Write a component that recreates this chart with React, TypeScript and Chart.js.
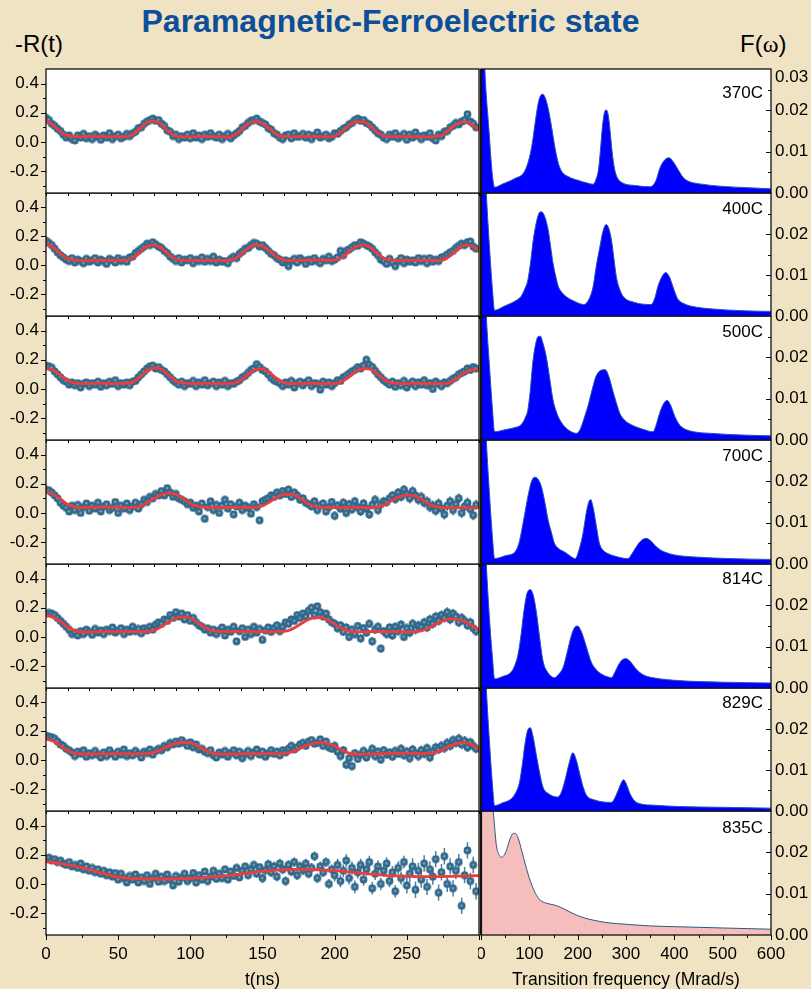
import React, { useEffect, useRef } from "react";
import { Chart, registerables } from "chart.js";
Chart.register(...registerables);

// ---------------- DATA ----------------
const TEMPS = ["370C", "400C", "500C", "700C", "814C", "829C", "835C"];
const FIT_STEP = 5; // ns
const DATA_STEP = 2; // ns

const FIT_370 = [0.145,0.115,0.070,0.042,0.036,0.037,0.038,0.038,0.037,0.036,0.035,0.036,0.050,0.090,0.133,0.143,0.120,0.070,0.040,0.035,0.036,0.037,0.038,0.037,0.035,0.034,0.042,0.080,0.125,0.141,0.128,0.090,0.050,0.037,0.036,0.037,0.038,0.037,0.036,0.035,0.040,0.070,0.115,0.139,0.137,0.105,0.060,0.040,0.036,0.037,0.037,0.036,0.035,0.034,0.036,0.050,0.090,0.125,0.137,0.120,0.080];
const FIT_400 = [0.149,0.125,0.080,0.045,0.034,0.033,0.033,0.034,0.034,0.033,0.032,0.034,0.050,0.090,0.130,0.142,0.120,0.075,0.042,0.034,0.033,0.034,0.035,0.035,0.034,0.032,0.040,0.075,0.118,0.142,0.133,0.098,0.058,0.036,0.032,0.034,0.035,0.036,0.036,0.035,0.036,0.055,0.095,0.130,0.142,0.122,0.080,0.045,0.033,0.033,0.034,0.035,0.035,0.034,0.033,0.038,0.065,0.110,0.140,0.135,0.097];
const FIT_500 = [0.145,0.128,0.095,0.058,0.040,0.037,0.037,0.038,0.038,0.037,0.037,0.038,0.045,0.080,0.125,0.145,0.135,0.095,0.055,0.040,0.037,0.037,0.038,0.038,0.037,0.037,0.040,0.060,0.100,0.133,0.138,0.110,0.068,0.042,0.036,0.037,0.038,0.038,0.037,0.036,0.037,0.050,0.085,0.122,0.140,0.135,0.100,0.060,0.040,0.037,0.037,0.038,0.038,0.037,0.036,0.036,0.045,0.075,0.110,0.130,0.133];
const FIT_700 = [0.147,0.130,0.095,0.058,0.040,0.037,0.038,0.039,0.040,0.040,0.039,0.038,0.038,0.045,0.070,0.100,0.126,0.136,0.128,0.100,0.065,0.045,0.038,0.037,0.037,0.038,0.038,0.038,0.037,0.038,0.048,0.075,0.108,0.127,0.127,0.108,0.075,0.048,0.038,0.036,0.036,0.037,0.038,0.038,0.038,0.037,0.040,0.058,0.088,0.112,0.122,0.118,0.095,0.062,0.043,0.037,0.037,0.037,0.037,0.037,0.037];
const FIT_814 = [0.149,0.135,0.105,0.068,0.042,0.034,0.034,0.036,0.037,0.037,0.037,0.036,0.036,0.036,0.037,0.045,0.070,0.103,0.130,0.138,0.128,0.100,0.065,0.043,0.036,0.036,0.037,0.037,0.037,0.036,0.036,0.035,0.035,0.038,0.052,0.080,0.110,0.130,0.132,0.118,0.088,0.058,0.040,0.035,0.035,0.036,0.036,0.037,0.037,0.036,0.035,0.036,0.042,0.060,0.088,0.112,0.124,0.122,0.105,0.078,0.050];
const FIT_829 = [0.148,0.133,0.100,0.068,0.048,0.044,0.044,0.045,0.045,0.045,0.046,0.046,0.045,0.045,0.047,0.055,0.075,0.100,0.118,0.125,0.120,0.100,0.072,0.050,0.043,0.043,0.044,0.045,0.046,0.047,0.047,0.046,0.046,0.048,0.056,0.078,0.102,0.118,0.123,0.118,0.098,0.070,0.050,0.043,0.042,0.043,0.045,0.047,0.048,0.049,0.049,0.048,0.047,0.048,0.055,0.075,0.100,0.118,0.123,0.110,0.077];
const FIT_835 = [0.153,0.147,0.140,0.132,0.122,0.112,0.098,0.085,0.072,0.059,0.048,0.042,0.038,0.035,0.034,0.034,0.034,0.034,0.035,0.036,0.038,0.041,0.044,0.048,0.052,0.057,0.063,0.069,0.075,0.081,0.086,0.090,0.094,0.097,0.099,0.100,0.100,0.099,0.097,0.094,0.091,0.087,0.082,0.077,0.072,0.067,0.063,0.059,0.056,0.054,0.052,0.051,0.050,0.050,0.050,0.051,0.052,0.053,0.055,0.056,0.057];

const DATA_370 = [
  0.165,0.15,0.125,0.11,0.09,0.075,0.05,0.03,0.045,0.02,
  0.01,0.045,0.03,0.055,0.025,0.04,0.02,0.05,0.035,0.015,
  0.045,0.03,0.06,0.02,0.04,0.05,0.025,0.035,0.055,0.04,
  0.06,0.07,0.095,0.1,0.125,0.14,0.15,0.16,0.145,0.15,
  0.125,0.11,0.08,0.07,0.04,0.05,0.02,0.04,0.03,0.05,
  0.025,0.06,0.03,0.045,0.02,0.05,0.035,0.06,0.04,0.03,
  0.05,0.02,0.04,0.055,0.025,0.045,0.06,0.075,0.1,0.11,
  0.13,0.145,0.15,0.16,0.14,0.13,0.12,0.095,0.085,0.06,
  0.05,0.03,0.02,0.045,0.05,0.025,0.06,0.035,0.04,0.055,
  0.03,0.05,0.02,0.045,0.065,0.03,0.04,0.05,0.025,0.035,
  0.06,0.055,0.075,0.09,0.1,0.12,0.13,0.15,0.16,0.145,
  0.15,0.13,0.12,0.1,0.08,0.06,0.05,0.03,0.02,0.05,
  0.035,0.06,0.025,0.04,0.055,0.015,0.05,0.03,0.065,0.04,
  0.02,0.045,0.035,0.06,0.025,0.01,0.05,0.04,0.07,0.075,
  0.1,0.11,0.13,0.12,0.14,0.15,0.19,0.14,0.125,0.1];
const DATA_400 = [
  0.17,0.155,0.14,0.115,0.09,0.07,0.055,0.04,0.03,0.05,
  0.02,0.04,0.03,0.015,0.045,0.025,0.035,0.05,0.02,0.04,
  0.03,0.01,0.045,0.035,0.02,0.05,0.03,0.04,0.025,0.055,
  0.06,0.085,0.1,0.115,0.13,0.15,0.14,0.16,0.145,0.13,
  0.12,0.1,0.085,0.06,0.045,0.03,0.05,0.02,0.04,0.035,
  0.05,0.015,0.04,0.03,0.055,0.025,0.045,0.03,0.06,0.02,
  0.04,0.025,0.03,0.015,0.045,0.06,0.05,0.08,0.095,0.115,
  0.12,0.14,0.155,0.15,0.13,0.14,0.12,0.1,0.08,0.07,
  0.05,0.04,0.02,0.035,-0.005,0.03,0.045,0.02,0.05,0.035,
  0.01,0.04,0.025,0.05,0.03,0.015,0.045,0.035,0.06,0.03,
  0.04,0.055,0.1,0.07,0.1,0.11,0.125,0.14,0.135,0.16,
  0.15,0.14,0.13,0.115,0.09,0.07,0.04,0.03,0.01,0.045,
  0.02,-0.005,0.03,0.05,0.015,0.04,0.025,0.035,0.02,0.05,
  0.03,0.045,0.015,0.05,0.025,0.04,0.03,0.055,0.06,0.075,
  0.09,0.1,0.12,0.135,0.15,0.14,0.16,0.165,0.13,0.115];
const DATA_500 = [
  0.16,0.155,0.145,0.12,0.1,0.08,0.06,0.05,0.03,0.045,
  0.025,0.04,0.01,0.035,0.045,0.02,0.04,0.03,0.05,0.015,
  0.04,0.025,0.05,0.035,0.06,0.02,0.04,0.03,0.045,0.025,
  0.05,0.055,0.08,0.1,0.12,0.14,0.155,0.16,0.14,0.15,
  0.13,0.12,0.1,0.08,0.06,0.045,0.03,0.05,0.02,0.04,
  0.035,0.055,0.02,0.045,0.03,0.06,0.025,0.04,0.05,0.02,
  0.045,0.03,0.055,0.02,0.04,0.035,0.05,0.06,0.08,0.09,
  0.11,0.13,0.14,0.17,0.15,0.13,0.12,0.1,0.075,0.06,
  0.05,0.04,0.02,0.045,0.03,0.055,0.01,0.04,0.05,0.025,
  0.045,0.06,0.02,0.04,0.035,-0.005,0.05,0.03,0.045,0.02,
  0.04,0.06,0.055,0.08,0.09,0.105,0.12,0.13,0.15,0.14,
  0.16,0.2,0.165,0.15,0.125,0.1,0.08,0.06,0.045,0.03,
  0.05,0.015,0.04,0.025,0.055,0.01,0.035,0.05,0.02,0.045,
  0.03,0.06,0.025,0.04,0.0,0.05,0.035,0.02,0.045,0.04,
  0.055,0.07,0.08,0.1,0.11,0.12,0.14,0.13,0.15,0.14];
const DATA_700 = [
  0.16,0.155,0.14,0.12,0.1,0.07,0.05,0.035,0.01,0.05,
  0.02,0.055,0.0,0.04,0.065,0.015,0.05,0.03,0.07,0.01,
  0.045,0.06,0.02,0.035,0.075,0.0,0.05,0.03,0.065,0.02,
  0.045,0.07,0.03,0.06,0.09,0.075,0.11,0.1,0.13,0.12,
  0.15,0.12,0.17,0.14,0.11,0.13,0.1,0.09,0.08,0.06,
  0.07,0.035,0.05,0.01,0.065,-0.04,0.04,0.08,0.02,0.055,
  0.0,0.05,0.09,0.03,0.06,-0.01,0.045,0.07,0.02,0.05,
  0.035,-0.005,0.06,0.04,-0.05,0.08,0.09,0.1,0.12,0.11,
  0.14,0.12,0.15,0.13,0.16,0.11,0.14,0.12,0.09,0.1,
  0.07,0.06,0.045,0.08,0.02,0.05,0.065,0.01,0.04,0.075,
  -0.02,0.05,0.03,0.07,0.0,0.06,0.025,0.08,0.04,0.01,
  0.065,0.03,-0.01,0.055,0.09,0.02,0.06,0.08,0.075,0.1,
  0.12,0.095,0.14,0.11,0.16,0.13,0.1,0.15,0.12,0.09,
  0.11,0.07,0.08,0.04,0.05,0.015,0.065,0.03,-0.01,0.05,
  0.08,0.02,0.06,0.1,0.0,0.045,0.07,0.025,-0.015,0.055];
const DATA_814 = [
  0.16,0.165,0.16,0.15,0.13,0.11,0.09,0.07,0.05,0.02,
  0.03,0.01,0.04,0.02,0.05,0.035,0.015,0.055,0.03,0.045,
  0.02,0.05,0.04,0.065,0.03,0.045,0.06,0.02,0.05,0.035,
  0.07,0.04,0.055,0.025,0.06,0.045,0.07,0.05,0.085,0.1,
  0.09,0.12,0.11,0.15,0.13,0.17,0.14,0.16,0.12,0.15,
  0.11,0.13,0.1,0.08,0.07,0.05,0.06,0.03,0.05,0.02,
  0.045,0.065,0.01,0.05,0.035,0.07,-0.03,0.04,0.06,0.0,
  0.05,0.02,0.07,0.03,0.055,-0.02,0.045,0.065,0.035,0.06,
  0.08,0.04,0.07,0.1,0.09,0.12,0.11,0.15,0.13,0.16,
  0.14,0.18,0.2,0.15,0.21,0.17,0.14,0.16,0.12,0.1,
  0.09,0.06,0.08,0.035,0.065,0.0,0.05,0.02,0.075,-0.01,
  0.06,0.03,0.09,-0.03,0.05,0.07,-0.08,0.04,0.02,0.065,
  0.01,0.07,0.04,0.085,0.0,0.06,0.03,0.09,0.05,0.08,
  0.07,0.1,0.065,0.12,0.09,0.14,0.11,0.15,0.13,0.17,
  0.12,0.16,0.14,0.1,0.13,0.11,0.08,0.1,0.06,0.04];
const DATA_829 = [
  0.17,0.165,0.16,0.15,0.13,0.11,0.1,0.08,0.07,0.055,
  0.03,0.06,0.045,0.07,0.025,0.05,0.035,0.065,0.04,0.02,
  0.055,0.03,0.07,0.045,0.025,0.06,0.04,0.075,0.03,0.05,
  0.035,0.065,0.045,0.02,0.06,0.05,0.075,0.04,0.065,0.08,
  0.07,0.1,0.09,0.12,0.11,0.13,0.115,0.14,0.12,0.1,
  0.125,0.09,0.11,0.075,0.08,0.06,0.05,0.07,0.035,0.02,
  0.055,0.04,0.065,0.025,0.05,0.07,0.035,0.06,0.015,0.045,
  0.065,0.03,0.055,0.075,0.04,0.06,0.025,0.05,0.07,0.045,
  0.06,0.035,0.07,0.055,0.08,0.1,0.075,0.09,0.11,0.12,
  0.1,0.13,0.14,0.115,0.12,0.145,0.1,0.13,0.09,0.08,
  0.1,0.06,0.03,0.07,-0.03,0.015,-0.04,0.05,0.01,0.04,
  0.065,0.02,0.05,0.08,0.03,0.06,0.005,0.07,0.04,0.055,
  0.025,0.065,0.045,0.08,0.035,0.06,0.015,0.075,0.05,0.03,
  0.07,0.045,0.085,0.02,0.06,0.09,0.075,0.1,0.085,0.12,
  0.1,0.14,0.12,0.15,0.11,0.135,0.09,0.125,0.1,0.08];
const DATA_835 = [
  0.17,0.18,0.16,0.17,0.15,0.16,0.14,0.13,0.15,0.12,
  0.13,0.11,0.14,0.1,0.12,0.09,0.11,0.08,0.1,0.07,
  0.09,0.06,0.08,0.05,0.075,0.03,0.07,0.04,0.01,0.055,
  0.03,0.065,0.01,0.045,0.02,0.06,0.0,0.04,0.07,0.015,
  0.05,0.02,0.065,0.03,-0.01,0.055,0.015,0.045,0.07,0.02,
  0.04,0.075,0.01,0.06,0.03,0.085,0.02,0.05,0.09,0.035,
  0.07,0.04,0.1,0.03,0.085,0.055,0.11,0.045,0.09,0.12,
  0.06,0.1,0.13,0.07,0.115,0.04,0.095,0.135,0.08,0.12,
  0.05,0.14,0.1,0.02,0.13,0.085,0.15,0.06,0.12,0.095,
  0.14,0.07,0.11,0.19,0.04,0.12,0.08,0.15,0.0,0.1,
  0.06,0.13,0.02,0.09,0.16,0.04,0.11,-0.02,0.08,0.13,
  0.03,0.1,0.15,-0.03,0.07,0.12,0.0,0.09,0.14,0.02,
  0.08,-0.05,0.11,0.04,0.15,-0.01,0.07,0.12,-0.04,0.09,
  0.03,0.14,-0.02,0.1,0.05,0.17,-0.06,0.08,0.19,0.0,
  0.12,-0.03,0.09,0.15,-0.15,0.06,0.23,0.02,0.13,-0.05];

// error-bar half-widths per 50 ns segment
const ERR_370 = [0.014, 0.015, 0.016, 0.018, 0.020, 0.022];
const ERR_400 = [0.014, 0.015, 0.017, 0.018, 0.020, 0.022];
const ERR_500 = [0.015, 0.017, 0.019, 0.021, 0.023, 0.026];
const ERR_700 = [0.016, 0.019, 0.023, 0.027, 0.031, 0.035];
const ERR_814 = [0.015, 0.018, 0.021, 0.025, 0.029, 0.033];
const ERR_829 = [0.015, 0.018, 0.021, 0.025, 0.029, 0.033];
const ERR_835 = [0.015, 0.019, 0.025, 0.033, 0.043, 0.056];

// F(omega): [frequency (Mrad/s), value]
const SPEC_370 = [[0,0.06],[8,0.03],[16,0.016],[23,0.005],[28,0.0014],[45,0.0022],[70,0.0035],[90,0.0052],[100,0.0085],[106,0.012],[112,0.017],[118,0.0215],[123,0.0235],[128,0.0239],[133,0.023],[139,0.0205],[146,0.016],[153,0.011],[160,0.0072],[167,0.0052],[180,0.004],[200,0.0031],[220,0.0024],[232,0.0021],[238,0.0033],[243,0.0056],[247,0.0102],[251,0.0158],[255,0.0193],[259,0.0201],[263,0.019],[267,0.0152],[271,0.0103],[276,0.006],[282,0.0037],[292,0.0025],[320,0.0018],[350,0.0015],[362,0.003],[370,0.006],[380,0.008],[389,0.0085],[398,0.0075],[408,0.0056],[418,0.0038],[428,0.0029],[453,0.0022],[500,0.0016],[550,0.0013],[600,0.001]];
const SPEC_400 = [[0,0.06],[11,0.03],[18,0.016],[24,0.006],[28,0.0014],[50,0.0025],[70,0.0036],[83,0.0048],[92,0.007],[97,0.0088],[103,0.0135],[108,0.0185],[114,0.0225],[119,0.0248],[125,0.0254],[131,0.0245],[139,0.021],[144,0.017],[149,0.0129],[155,0.0095],[160,0.0072],[170,0.0054],[180,0.0044],[195,0.0035],[213,0.0028],[225,0.0045],[232,0.0072],[239,0.0125],[246,0.0169],[252,0.0205],[259,0.0223],[264,0.0215],[270,0.0185],[275,0.014],[280,0.0096],[287,0.0065],[294,0.0048],[318,0.0033],[352,0.0028],[360,0.0045],[366,0.0072],[374,0.0095],[382,0.0106],[390,0.0095],[397,0.0072],[403,0.0052],[408,0.004],[420,0.003],[435,0.0024],[480,0.0017],[540,0.0013],[600,0.0011]];
const SPEC_500 = [[0,0.06],[11,0.03],[18,0.017],[24,0.007],[28,0.002],[50,0.0025],[70,0.003],[83,0.0037],[92,0.0055],[97,0.0073],[102,0.012],[107,0.0186],[113,0.0232],[118,0.025],[123,0.0251],[128,0.0235],[135,0.0202],[142,0.015],[149,0.0097],[156,0.0068],[163,0.0049],[175,0.003],[190,0.0018],[197,0.0016],[205,0.0025],[214,0.0055],[221,0.0081],[230,0.0122],[238,0.0154],[247,0.0168],[257,0.017],[265,0.0152],[272,0.0122],[280,0.009],[287,0.0065],[298,0.0047],[311,0.0037],[335,0.0026],[356,0.002],[362,0.0035],[367,0.0055],[372,0.0073],[379,0.009],[385,0.0096],[392,0.0085],[401,0.0057],[410,0.0038],[418,0.0029],[440,0.002],[477,0.0016],[540,0.0012],[600,0.001]];
const SPEC_700 = [[0,0.06],[11,0.03],[18,0.016],[24,0.006],[28,0.0013],[50,0.002],[70,0.0029],[78,0.0048],[83,0.0074],[90,0.0118],[97,0.0163],[104,0.0198],[111,0.021],[118,0.0205],[125,0.0187],[132,0.015],[139,0.0106],[146,0.0075],[152,0.005],[162,0.0036],[173,0.0029],[185,0.0019],[195,0.0013],[203,0.0035],[211,0.0074],[218,0.0125],[223,0.015],[227,0.0156],[231,0.0142],[235,0.0118],[240,0.0082],[245,0.005],[253,0.0033],[263,0.0025],[280,0.0018],[304,0.0013],[312,0.0024],[321,0.0041],[330,0.0055],[342,0.0062],[352,0.0055],[359,0.0046],[370,0.0035],[380,0.0029],[400,0.0022],[442,0.0017],[520,0.0013],[600,0.0011]];
const SPEC_814 = [[0,0.06],[11,0.03],[18,0.016],[24,0.007],[28,0.0022],[45,0.0028],[62,0.0038],[70,0.0055],[77,0.0083],[83,0.013],[89,0.0188],[95,0.0228],[102,0.0238],[108,0.0225],[114,0.0188],[121,0.0125],[128,0.0067],[138,0.0038],[152,0.0025],[162,0.0035],[170,0.005],[178,0.0085],[186,0.0123],[193,0.0145],[200,0.015],[207,0.0138],[214,0.0115],[221,0.0088],[228,0.0063],[238,0.0045],[249,0.0034],[262,0.0027],[270,0.0025],[277,0.0038],[284,0.0055],[292,0.0068],[300,0.0071],[309,0.0064],[318,0.005],[328,0.0038],[339,0.003],[360,0.0024],[408,0.0018],[500,0.0014],[600,0.0012]];
const SPEC_829 = [[0,0.06],[11,0.03],[18,0.016],[24,0.006],[28,0.0013],[45,0.002],[62,0.0029],[72,0.0045],[80,0.0072],[86,0.0118],[90,0.0156],[96,0.0195],[102,0.0203],[108,0.018],[114,0.014],[121,0.0095],[128,0.0059],[140,0.0042],[159,0.0034],[167,0.0048],[174,0.0076],[182,0.0115],[190,0.0142],[197,0.0125],[204,0.0092],[211,0.006],[218,0.0039],[235,0.0027],[270,0.0021],[277,0.0032],[284,0.0051],[290,0.0068],[295,0.0076],[301,0.0065],[308,0.0043],[316,0.0027],[325,0.0019],[360,0.0014],[408,0.0011],[500,0.0009],[600,0.0007]];
const SPEC_835 = [[0,0.09],[12,0.05],[20,0.036],[26,0.029],[32,0.0215],[37,0.0195],[42,0.0188],[48,0.0193],[53,0.0206],[60,0.0232],[67,0.0246],[72,0.0245],[77,0.0234],[84,0.0205],[91,0.0174],[98,0.0145],[105,0.0121],[113,0.01],[122,0.0085],[135,0.0077],[150,0.0073],[163,0.0068],[180,0.0058],[198,0.0048],[215,0.0041],[232,0.0036],[260,0.003],[300,0.0026],[350,0.0022],[405,0.002],[500,0.0017],[600,0.0014]];

const FITS = [FIT_370, FIT_400, FIT_500, FIT_700, FIT_814, FIT_829, FIT_835];
const DATAS = [DATA_370, DATA_400, DATA_500, DATA_700, DATA_814, DATA_829, DATA_835];
const ERRS = [ERR_370, ERR_400, ERR_500, ERR_700, ERR_814, ERR_829, ERR_835];
const SPECS = [SPEC_370, SPEC_400, SPEC_500, SPEC_700, SPEC_814, SPEC_829, SPEC_835];

// tick values
const LEFT_Y_TICKS = [-0.2, 0, 0.2, 0.4];
const LEFT_Y_MINOR = [-0.3, -0.1, 0.1, 0.3];
const LEFT_X_LABELS = [0, 50, 100, 150, 200, 250];
const LEFT_X_MAJOR = [0, 50, 100, 150, 200, 250, 300];
const LEFT_X_MINOR = [25, 75, 125, 175, 225, 275];
const LEFT_X_INNER = [0, 15, 30, 45, 60, 75, 90, 105, 120, 135, 150, 165, 180, 195, 210, 225, 240, 255, 270, 285, 300];
const RIGHT_Y_TICKS = [0, 0.01, 0.02];
const RIGHT_Y_TOP_LABEL = 0.03;
const RIGHT_Y_MAJOR = [0.01, 0.02];
const RIGHT_Y_MINOR = [0.005, 0.015, 0.025];
const RIGHT_X_LABELS = [0, 100, 200, 300, 400, 500, 600];
const RIGHT_X_MINOR = [50, 150, 250, 350, 450, 550];

// ---------------- LAYOUT / STYLE ----------------
const W = 811, H = 989;
const ROWS = 7;
const TOP = 69;
const ROW_H = 123.7;
const PAD = 12;
const LEFT_AREA_L = 46;
const SPLIT = 481;
const RIGHT_AREA_R = 771;
const BG = "#EFE3C3";
const FONT_FAMILY = "'Liberation Sans', Arial, Helvetica, sans-serif";
const TICK_FONT = { family: FONT_FAMILY, size: 17 };
const LABEL_DY = [29, 21, 21, 21, 20, 20, 22];
const AXIS_TITLE_PAD = -2;

function rowEdge(i: number) {
  return Math.round(TOP + i * ROW_H);
}

function makeDot() {
  const c = document.createElement("canvas");
  c.width = 9;
  c.height = 9;
  const g = c.getContext("2d")!;
  g.fillStyle = "#31698b";
  g.beginPath();
  g.arc(4.5, 4.5, 3.9, 0, Math.PI * 2);
  g.fill();
  const grd = g.createRadialGradient(4.3, 4.3, 0, 4.3, 4.3, 1.9);
  grd.addColorStop(0, "rgba(215,232,244,0.85)");
  grd.addColorStop(1, "rgba(110,150,180,0)");
  g.fillStyle = grd;
  g.beginPath();
  g.arc(4.5, 4.5, 1.9, 0, Math.PI * 2);
  g.fill();
  return c;
}

function zeroPad(s: any) {
  s.paddingTop = 0;
  s.paddingBottom = 0;
  s.paddingLeft = 0;
  s.paddingRight = 0;
}

const errorBars = {
  id: "errorBars",
  beforeDatasetsDraw(chart: any, _a: any, opts: any) {
    if (!opts || !opts.errs) return;
    const meta = chart.getDatasetMeta(opts.dataset);
    const pts = chart.data.datasets[opts.dataset].data;
    const ys = chart.scales.y;
    const ctx = chart.ctx;
    const a = chart.chartArea;
    ctx.save();
    ctx.beginPath();
    ctx.rect(a.left, a.top, a.right - a.left, a.bottom - a.top);
    ctx.clip();
    ctx.strokeStyle = "#4a80a2";
    ctx.lineWidth = 1.5;
    ctx.beginPath();
    meta.data.forEach((el: any, k: number) => {
      const d = pts[k];
      const e = opts.errs[Math.min(opts.errs.length - 1, Math.floor(d.x / 50))];
      ctx.moveTo(el.x, ys.getPixelForValue(d.y + e));
      ctx.lineTo(el.x, ys.getPixelForValue(d.y - e));
    });
    ctx.stroke();
    ctx.restore();
  },
};

const deco = {
  id: "deco",
  beforeDraw(chart: any) {
    const { ctx, chartArea: a } = chart;
    ctx.save();
    ctx.fillStyle = "#ffffff";
    ctx.fillRect(a.left, a.top, a.right - a.left, a.bottom - a.top);
    ctx.restore();
  },
  afterDraw(chart: any, _a: any, opts: any) {
    const { ctx, chartArea: a } = chart;
    ctx.save();
    ctx.strokeStyle = "#000";
    ctx.lineWidth = 1;
    for (const m of opts.marks || []) {
      const sc = chart.scales[m.scale];
      for (const v of m.values) {
        const p = Math.round(sc.getPixelForValue(v)) + 0.5;
        ctx.beginPath();
        if (m.edge === "bottom") {
          ctx.moveTo(p, a.bottom);
          ctx.lineTo(p, a.bottom + m.len);
        } else if (m.edge === "left") {
          ctx.moveTo(a.left, p);
          ctx.lineTo(a.left - m.len, p);
        } else if (m.edge === "right") {
          ctx.moveTo(a.right, p);
          ctx.lineTo(a.right - m.len, p);
        }
        ctx.stroke();
      }
    }
    ctx.strokeStyle = "#111";
    ctx.lineWidth = opts.borderWidth || 1.3;
    ctx.strokeRect(a.left, a.top, a.right - a.left, a.bottom - a.top);
    if (opts.thickLeft) {
      ctx.lineWidth = 2.2;
      ctx.beginPath();
      ctx.moveTo(a.left, a.top);
      ctx.lineTo(a.left, a.bottom);
      ctx.stroke();
    }
    ctx.fillStyle = "#000";
    ctx.font = `17px ${FONT_FAMILY}`;
    ctx.textBaseline = "alphabetic";
    if (opts.label) {
      ctx.textAlign = "right";
      ctx.fillText(opts.label, a.right - 8, a.top + opts.labelDy);
    }
    if (opts.topLabel != null) {
      // top tick label of the right axis, sitting just below its tick as in the original
      const y = chart.scales.y.getPixelForValue(opts.topLabel);
      ctx.textAlign = "left";
      ctx.fillText(Number(opts.topLabel).toFixed(2), a.right + 4, y + 13);
    }
    ctx.restore();
  },
};

function leftConfig(i: number, dot: HTMLCanvasElement, axisH: number): any {
  const isBottom = i === ROWS - 1;
  const marks: any[] = [
    { scale: "y", edge: "left", values: LEFT_Y_TICKS, len: 5 },
    { scale: "y", edge: "left", values: LEFT_Y_MINOR, len: 3 },
  ];
  if (isBottom) {
    marks.push({ scale: "x", edge: "bottom", values: LEFT_X_MAJOR, len: 5 });
    marks.push({ scale: "x", edge: "bottom", values: LEFT_X_MINOR, len: 3 });
  } else {
    marks.push({ scale: "x", edge: "bottom", values: LEFT_X_INNER, len: 3 });
  }
  return {
    type: "line",
    data: {
      datasets: [
        {
          data: FITS[i].map((v, k) => ({ x: k * FIT_STEP, y: v })),
          borderColor: "#ee3b3b",
          borderWidth: 2.8,
          pointRadius: 0,
          cubicInterpolationMode: "monotone",
          order: 0,
        },
        {
          data: DATAS[i].map((v, k) => ({ x: k * DATA_STEP, y: v })),
          showLine: false,
          pointStyle: dot,
          pointRadius: 4,
          order: 1,
        },
      ],
    },
    options: {
      animation: false,
      responsive: false,
      events: [],
      layout: { padding: { top: PAD, right: 3, bottom: isBottom ? 0 : PAD, left: 0 } },
      plugins: {
        legend: { display: false },
        tooltip: { enabled: false },
        errorBars: { dataset: 1, errs: ERRS[i] },
        deco: { marks, borderWidth: 1.3 },
      },
      scales: {
        x: {
          type: "linear",
          min: 0,
          max: 300,
          display: isBottom,
          grid: { display: false, drawTicks: false },
          border: { display: false },
          afterBuildTicks: (s: any) => {
            s.ticks = LEFT_X_LABELS.map((v) => ({ value: v }));
          },
          afterFit: (s: any) => {
            if (isBottom) s.height = axisH;
            zeroPad(s);
          },
          ticks: { font: TICK_FONT, color: "#000", padding: 9, maxRotation: 0, autoSkip: false },
          title: {
            display: true,
            text: "t(ns)",
            color: "#000",
            font: { family: FONT_FAMILY, size: 17.5 },
            padding: { top: 0, bottom: AXIS_TITLE_PAD },
          },
        },
        y: {
          type: "linear",
          min: -0.35,
          max: 0.5,
          grid: { display: false, drawTicks: false },
          border: { display: false },
          afterBuildTicks: (s: any) => {
            s.ticks = LEFT_Y_TICKS.map((v) => ({ value: v }));
          },
          afterFit: (s: any) => {
            s.width = LEFT_AREA_L;
            zeroPad(s);
          },
          ticks: {
            font: TICK_FONT,
            color: "#000",
            padding: 7,
            callback: (v: any) => Number(v).toFixed(1),
          },
        },
      },
    },
    plugins: [errorBars, deco],
  };
}

function rightConfig(i: number, axisH: number): any {
  const isBottom = i === ROWS - 1;
  const isPink = i === ROWS - 1;
  const marks: any[] = [
    { scale: "y", edge: "right", values: RIGHT_Y_MAJOR, len: 5 },
    { scale: "y", edge: "right", values: RIGHT_Y_MINOR, len: 3 },
  ];
  if (isBottom) {
    marks.push({ scale: "x", edge: "bottom", values: RIGHT_X_LABELS, len: 5 });
    marks.push({ scale: "x", edge: "bottom", values: RIGHT_X_MINOR, len: 3 });
  }
  return {
    type: "line",
    data: {
      datasets: [
        {
          data: SPECS[i].map((p) => ({ x: p[0], y: p[1] })),
          borderColor: isPink ? "#2d5a7c" : "#2a55b0",
          borderWidth: 1,
          backgroundColor: isPink ? "#F6BDBD" : "#0000FF",
          fill: "origin",
          pointRadius: 0,
          cubicInterpolationMode: "monotone",
        },
      ],
    },
    options: {
      animation: false,
      responsive: false,
      events: [],
      layout: { padding: { top: PAD, right: 0, bottom: isBottom ? 0 : PAD, left: 3 } },
      plugins: {
        legend: { display: false },
        tooltip: { enabled: false },
        deco: {
          marks,
          borderWidth: 1.3,
          thickLeft: true,
          label: TEMPS[i],
          labelDy: LABEL_DY[i],
          topLabel: i === 0 ? RIGHT_Y_TOP_LABEL : null,
        },
      },
      scales: {
        x: {
          type: "linear",
          min: 0,
          max: 600,
          display: isBottom,
          grid: { display: false, drawTicks: false },
          border: { display: false },
          afterBuildTicks: (s: any) => {
            s.ticks = RIGHT_X_LABELS.map((v) => ({ value: v }));
          },
          afterFit: (s: any) => {
            if (isBottom) s.height = axisH;
            zeroPad(s);
          },
          ticks: { font: TICK_FONT, color: "#000", padding: 9, maxRotation: 0, autoSkip: false },
          title: {
            display: true,
            text: "Transition frequency (Mrad/s)",
            color: "#000",
            font: { family: FONT_FAMILY, size: 17.5 },
            padding: { top: 0, bottom: AXIS_TITLE_PAD },
          },
        },
        y: {
          type: "linear",
          position: "right",
          min: 0,
          max: 0.03,
          grid: { display: false, drawTicks: false },
          border: { display: false },
          afterBuildTicks: (s: any) => {
            s.ticks = RIGHT_Y_TICKS.map((v) => ({ value: v }));
          },
          afterFit: (s: any) => {
            s.width = W - RIGHT_AREA_R;
            zeroPad(s);
          },
          ticks: {
            font: TICK_FONT,
            color: "#000",
            padding: 4,
            callback: (v: any) => Number(v).toFixed(2),
          },
        },
      },
    },
    plugins: [deco],
  };
}

type Box = { left: number; top: number; width: number; height: number; z: number; axisH: number };

function leftBox(i: number): Box {
  const t = rowEdge(i);
  const b = rowEdge(i + 1);
  const top = t - PAD;
  const height = i === ROWS - 1 ? H - top : b - t + 2 * PAD;
  return { left: 0, top, width: SPLIT + 3, height, z: 20 - i, axisH: H - top - PAD - (b - t) };
}
function rightBox(i: number): Box {
  const t = rowEdge(i);
  const b = rowEdge(i + 1);
  const top = t - PAD;
  const height = i === ROWS - 1 ? H - top : b - t + 2 * PAD;
  return { left: SPLIT - 3, top, width: W - (SPLIT - 3), height, z: 40 - i, axisH: H - top - PAD - (b - t) };
}

export default function App() {
  const leftRefs = useRef<(HTMLCanvasElement | null)[]>([]);
  const rightRefs = useRef<(HTMLCanvasElement | null)[]>([]);

  useEffect(() => {
    const dot = makeDot();
    const charts: Chart[] = [];
    for (let i = 0; i < ROWS; i++) {
      const lc = leftRefs.current[i];
      const rc = rightRefs.current[i];
      if (lc) charts.push(new Chart(lc, leftConfig(i, dot, leftBox(i).axisH)));
      if (rc) charts.push(new Chart(rc, rightConfig(i, rightBox(i).axisH)));
    }
    return () => charts.forEach((c) => c.destroy());
  }, []);

  const rows = Array.from({ length: ROWS }, (_, i) => i);

  return (
    <div style={{ position: "relative", width: W, height: H, background: BG, overflow: "hidden", fontFamily: FONT_FAMILY }}>
      <style>{`body{margin:0;background:${BG};}`}</style>
      <div
        style={{
          position: "absolute",
          left: 0,
          top: 5,
          width: 781,
          textAlign: "center",
          fontSize: 32,
          lineHeight: "32px",
          fontWeight: "bold",
          color: "#0D4E9A",
          whiteSpace: "nowrap",
        }}
      >
        Paramagnetic-Ferroelectric state
      </div>
      <div style={{ position: "absolute", left: 15, top: 32, fontSize: 24, lineHeight: "24px", color: "#000" }}>-R(t)</div>
      <div style={{ position: "absolute", left: 740, top: 32, fontSize: 24, lineHeight: "24px", color: "#000", whiteSpace: "nowrap" }}>
        F(<span style={{ fontFamily: "'Liberation Serif', 'DejaVu Serif', serif" }}>ω</span>)
      </div>
      {rows.map((i) => {
        const b = leftBox(i);
        return (
          <canvas
            key={"l" + i}
            ref={(el) => {
              leftRefs.current[i] = el;
            }}
            width={b.width}
            height={b.height}
            style={{ position: "absolute", left: b.left, top: b.top, width: b.width, height: b.height, zIndex: b.z }}
          />
        );
      })}
      {rows.map((i) => {
        const b = rightBox(i);
        return (
          <canvas
            key={"r" + i}
            ref={(el) => {
              rightRefs.current[i] = el;
            }}
            width={b.width}
            height={b.height}
            style={{ position: "absolute", left: b.left, top: b.top, width: b.width, height: b.height, zIndex: b.z }}
          />
        );
      })}
    </div>
  );
}
